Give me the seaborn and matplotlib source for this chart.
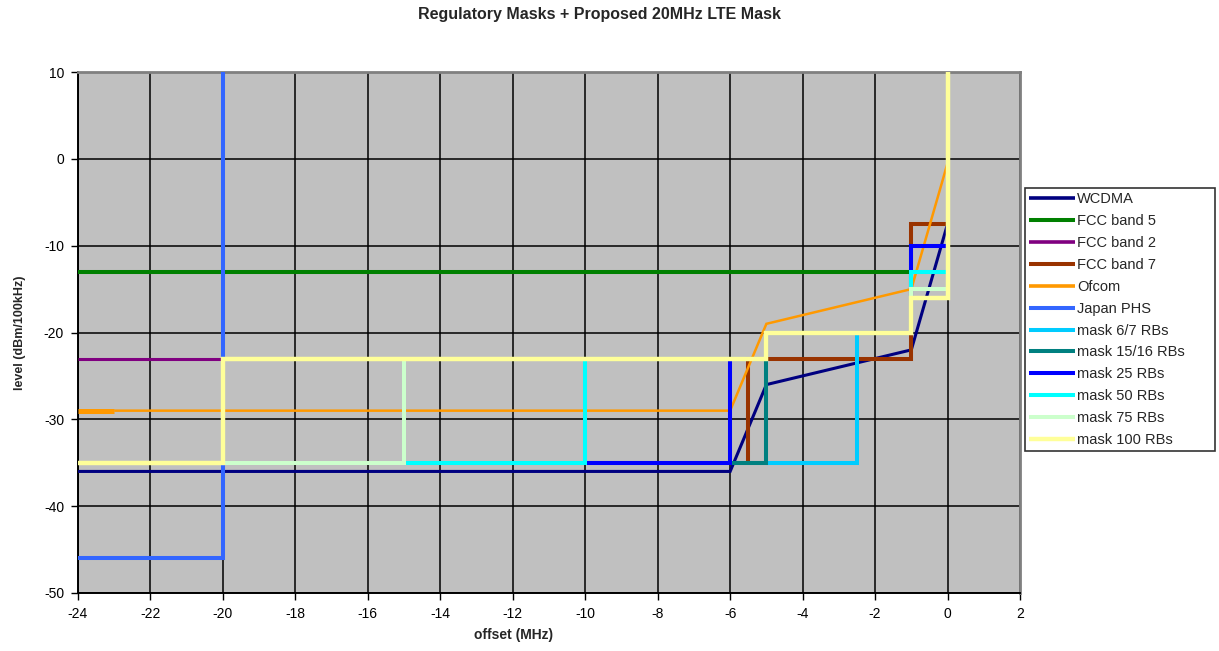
import matplotlib
matplotlib.use("Agg")
import matplotlib.pyplot as plt
import seaborn as sns
from matplotlib.lines import Line2D

# Offsets in MHz, levels in dBm/100kHz
wcdma_x = [-24, -6, -5, -1, 0]
wcdma_y = [-36, -36, -26, -22, -7.5]
fcc5_x = [-24, -1]
fcc5_y = [-13, -13]
fcc2_x = [-24, -20]
fcc2_y = [-23, -23]
fcc7_x = [-5.5, -5.5, -1, -1, 0]
fcc7_y = [-35, -23, -23, -7.5, -7.5]
ofcom_x = [-24, -23, -6, -5, -1, 0]
ofcom_y = [-29, -29, -29, -19, -15, -0.5]
phs_x = [-24, -20, -20]
phs_y = [-46, -46, 10]
m6_x = [-5, -2.5, -2.5, -1]
m6_y = [-35, -35, -20, -20]
m15_x = [-6, -5, -5, -1]
m15_y = [-35, -35, -20, -20]
m25_x = [-10, -6, -6, -5, -5, -1, -1, 0]
m25_y = [-35, -35, -23, -23, -20, -20, -10, -10]
m50_x = [-15, -10, -10, -5, -5, -1, -1, 0]
m50_y = [-35, -35, -23, -23, -20, -20, -13, -13]
m75_x = [-20, -15, -15, -5, -5, -1, -1, 0]
m75_y = [-35, -35, -23, -23, -20, -20, -15, -15]
m100_x = [-24, -20, -20, -5, -5, -1, -1, 0, 0]
m100_y = [-35, -35, -23, -23, -20, -20, -16, -16, 10]

labels = ["WCDMA", "FCC band 5", "FCC band 2", "FCC band 7", "Ofcom", "Japan PHS",
          "mask 6/7 RBs", "mask 15/16 RBs", "mask 25 RBs", "mask 50 RBs",
          "mask 75 RBs", "mask 100 RBs"]
xs = [wcdma_x, fcc5_x, fcc2_x, fcc7_x, ofcom_x, phs_x,
      m6_x, m15_x, m25_x, m50_x, m75_x, m100_x]
ys = [wcdma_y, fcc5_y, fcc2_y, fcc7_y, ofcom_y, phs_y,
      m6_y, m15_y, m25_y, m50_y, m75_y, m100_y]
colors = ["#000080", "#008000", "#800080", "#993300", "#FF9900", "#3366FF",
          "#00CCFF", "#008080", "#0000FF", "#00FFFF", "#CCFFCC", "#FFFF99"]
widths = [2.2, 2.9, 2.2, 2.9, 1.8, 2.9, 2.9, 2.9, 2.9, 2.9, 2.9, 3.2]

x_ticks = list(range(-24, 3, 2))
y_ticks = list(range(-50, 11, 10))

sns.set_style("white")
plt.rcParams["font.family"] = ["Liberation Sans", "DejaVu Sans"]
plt.rcParams["axes.unicode_minus"] = False

fig = plt.figure(figsize=(12.19, 6.51), dpi=100)
ax = fig.add_axes([78 / 1219, 1 - 593 / 651, 942 / 1219, 521 / 651])
ax.set_facecolor("#C0C0C0")

for i, (lab, x, y, c, lw) in enumerate(zip(labels, xs, ys, colors, widths)):
    if lab == "Ofcom":
        # heavier stroke on the first segment
        sns.lineplot(x=x[:2], y=y[:2], sort=False, estimator=None, color=c,
                     linewidth=3.6, ax=ax, legend=False, zorder=3 + i)
        x, y = x[1:], y[1:]
    sns.lineplot(x=x, y=y, sort=False, estimator=None, color=c, linewidth=lw,
                 ax=ax, legend=False, zorder=3 + i)

for ln in ax.lines:
    ln.set_solid_capstyle("butt")
    ln.set_solid_joinstyle("miter")

ax.set_xlim(-24, 2)
ax.set_ylim(-50, 10)
ax.set_xticks(x_ticks)
ax.set_yticks(y_ticks)
ax.grid(True, color="black", linewidth=1.1)
ax.set_axisbelow(True)
ax.tick_params(axis="both", direction="out", length=5, width=1, color="black",
               labelsize=10, labelcolor="black", pad=5, left=True, bottom=True)

for side in ["left", "bottom"]:
    ax.spines[side].set_color("black")
    ax.spines[side].set_linewidth(1.4)
for side in ["top", "right"]:
    ax.spines[side].set_color("#808080")
    ax.spines[side].set_linewidth(2)

ax.set_xlabel("offset (MHz)", fontsize=10, fontweight="bold")
ax.set_ylabel("level (dBm/100kHz)", fontsize=9, fontweight="bold")
ax.xaxis.set_label_coords(0.462, -0.068)
ax.yaxis.set_label_coords(-0.055, 0.5)

fig.text(0.492, 1 - 14 / 651, "Regulatory Masks + Proposed 20MHz LTE Mask",
         ha="center", va="center", fontsize=11.5, fontweight="bold")

handles = [Line2D([0], [0], color=c, linewidth=max(lw, 2.6), solid_capstyle="butt")
           for c, lw in zip(colors, widths)]
leg = fig.legend(handles, labels, loc="upper left",
                 bbox_to_anchor=(1025 / 1219, 1 - 450 / 651, 190 / 1219, 262 / 651),
                 mode="expand", borderaxespad=0, fontsize=10.5, handlelength=3.1,
                 handletextpad=0.15, labelspacing=0.54, borderpad=0.3,
                 fancybox=False, frameon=True)
leg.get_frame().set_edgecolor("black")
leg.get_frame().set_linewidth(1.2)
leg.get_frame().set_facecolor("white")

fig.savefig("out.png", dpi=100, facecolor="white")
